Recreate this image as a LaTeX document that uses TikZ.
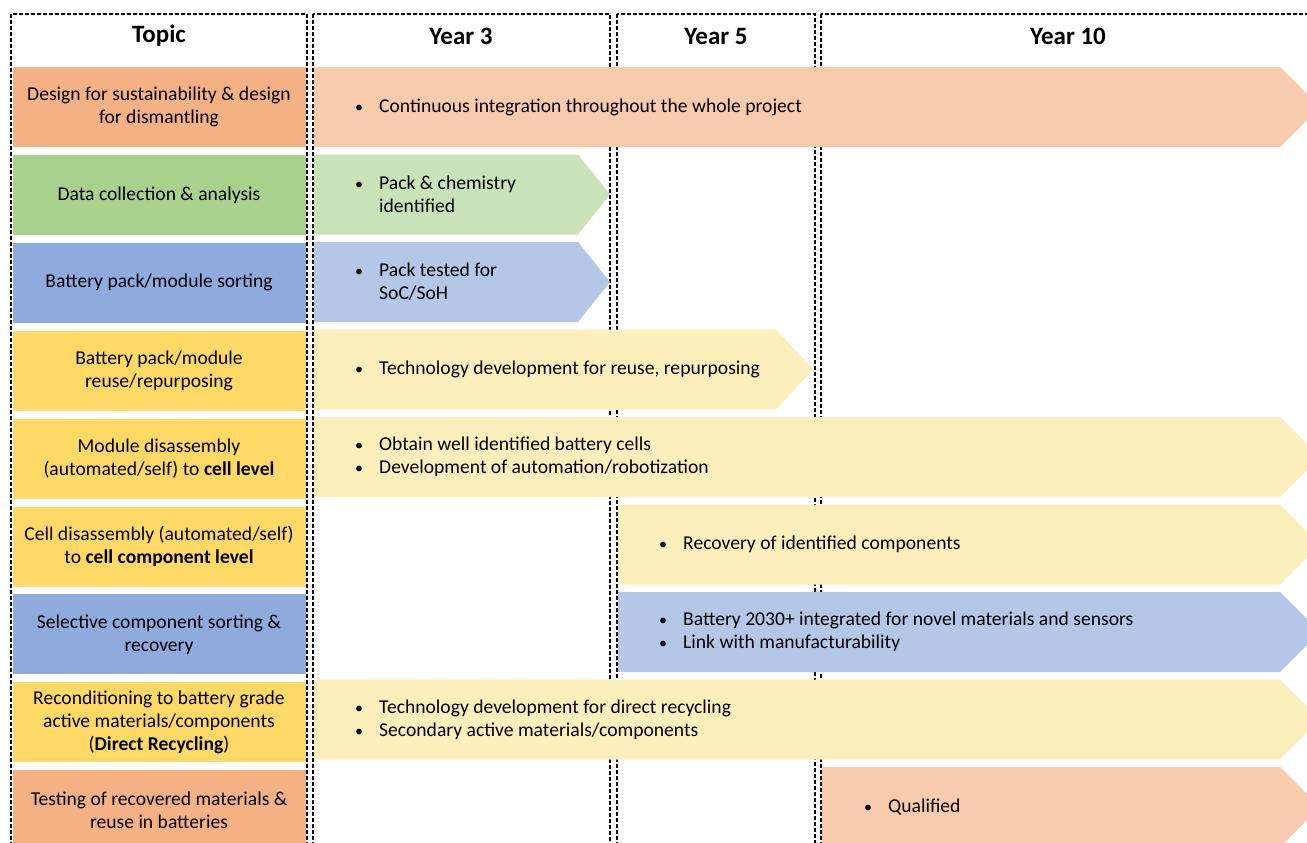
\documentclass[tikz,border=0pt]{standalone}
\usepackage{fontspec}
\setmainfont{Carlito}
\usepackage{tikz}
\usetikzlibrary{positioning}

\definecolor{orgTopic}{HTML}{F4B183}
\definecolor{orgBar}{HTML}{F8CBAD}
\definecolor{grnTopic}{HTML}{A9D18E}
\definecolor{grnBar}{HTML}{C9E2B8}
\definecolor{bluTopic}{HTML}{8FAADC}
\definecolor{bluBar}{HTML}{B4C7E7}
\definecolor{ylwTopic}{HTML}{FFD966}
\definecolor{ylwBar}{HTML}{FDEFBC}

% bar with arrow tip: left x, body end x, tip x, row top y, colour
\newcommand{\timebar}[5]{\fill[#5] (#1,#4) -- (#2,#4) -- (#3,#4+40) -- (#2,#4+80) -- (#1,#4+80) -- cycle;}
\newcommand{\bul}{\makebox[24pt][l]{\fontsize{16}{16}\selectfont\textbullet}}
\newcommand{\nobul}{\hspace*{24pt}}

\begin{document}
\begin{tikzpicture}[x=1pt, y=-1pt, font=\fontsize{19.6}{23}\selectfont]
    % Styles
    \tikzstyle{topic} = [rectangle, minimum width=293pt, minimum height=80pt, inner sep=0pt, align=center]
    \tikzstyle{head} = [font=\fontsize{25}{28}\selectfont\bfseries]
    \tikzstyle{column} = [draw, line width=2pt, dash pattern=on 4pt off 2pt]
    \tikzstyle{item} = [anchor=west, align=left, inner sep=0pt]

    \clip (0,0) rectangle (1307,843);

    % Topics
    \node [topic, fill=orgTopic] (t1) at (159,107) {Design for sustainability \& design\\for dismantling};
    \node [topic, fill=grnTopic, below=7.5pt of t1] (t2) {Data collection \& analysis};
    \node [topic, fill=bluTopic, below=7.5pt of t2] (t3) {Battery pack/module sorting};
    \node [topic, fill=ylwTopic, below=7.5pt of t3] (t4) {Battery pack/module\\reuse/repurposing};
    \node [topic, fill=ylwTopic, below=7.5pt of t4] (t5) {Module disassembly\\(automated/self) to \textbf{cell level}};
    \node [topic, fill=ylwTopic, below=7.5pt of t5] (t6) {Cell disassembly (automated/self)\\to \textbf{cell component level}};
    \node [topic, fill=bluTopic, below=7.5pt of t6] (t7) {Selective component sorting \&\\recovery};
    \node [topic, fill=ylwTopic, below=7.5pt of t7] (t8) {Reconditioning to battery grade\\active materials/components\\(\textbf{Direct Recycling})};
    \node [topic, fill=orgTopic, below=7.5pt of t8] (t9) {Testing of recovered materials \&\\reuse in batteries};

    % Columns
    \draw [column] (11,14) rectangle (307,870);
    \draw [column] (313,14) rectangle (610,870);
    \draw [column] (617,14) rectangle (815,870);
    \draw [column] (821,14) rectangle (1316,870);
    \node [head] (hTopic) at (159,36) {Topic};
    \node [head] (hY3) at (461,36) {Year 3};
    \node [head] (hY5) at (716,36) {Year 5};
    \node [head] (hY10) at (1068,36) {Year 10};

    % Bars
    \timebar{314}{1280}{1320}{67}{orgBar}
    \timebar{314}{578}{610}{154.5}{grnBar}
    \timebar{314}{578}{610}{242}{bluBar}
    \timebar{314}{776}{813}{329.5}{ylwBar}
    \timebar{314}{1280}{1320}{417}{ylwBar}
    \timebar{618}{1280}{1320}{504.5}{ylwBar}
    \timebar{618}{1280}{1320}{592}{bluBar}
    \timebar{314}{1280}{1320}{679.5}{ylwBar}
    \timebar{822}{1280}{1320}{767}{orgBar}

    % Bar texts
    \node [item] (b1) at (355,107) {\bul Continuous integration throughout the whole project};
    \node [item] (b2) at (355,194.5) {\bul Pack \& chemistry\\\nobul identified};
    \node [item] (b3) at (355,282) {\bul Pack tested for\\\nobul SoC/SoH};
    \node [item] (b4) at (355,369.5) {\bul Technology development for reuse, repurposing};
    \node [item] (b5) at (355,457) {\bul Obtain well identified battery cells\\\bul Development of automation/robotization};
    \node [item] (b6) at (659,544.5) {\bul Recovery of identified components};
    \node [item] (b7) at (659,632) {\bul Battery 2030+ integrated for novel materials and sensors\\\bul Link with manufacturability};
    \node [item] (b8) at (355,719.5) {\bul Technology development for direct recycling\\\bul Secondary active materials/components};
    \node [item] (b9) at (864,807) {\bul Qualified};
\end{tikzpicture}
\end{document}
